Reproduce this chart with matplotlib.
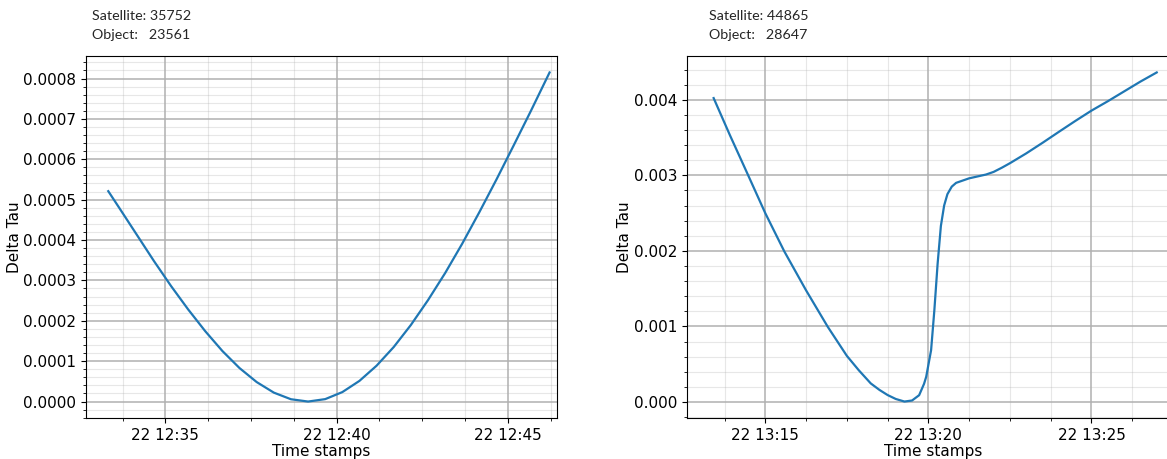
import matplotlib
matplotlib.use("Agg")
import matplotlib.pyplot as plt
import matplotlib.dates as mdates
from matplotlib.ticker import AutoMinorLocator
import pandas as pd

# values
day = "2023-03-22 "

left_times = ["12:33:20", "12:33:40", "12:34:10", "12:34:40", "12:35:10", "12:35:40",
              "12:36:10", "12:36:40", "12:37:10", "12:37:40", "12:38:10", "12:38:40",
              "12:39:10", "12:39:40", "12:40:10", "12:40:40", "12:41:10", "12:41:40",
              "12:42:10", "12:42:40", "12:43:10", "12:43:40", "12:44:10", "12:44:40",
              "12:45:10", "12:45:40", "12:46:13"]
left_tau = [0.000521, 0.000478, 0.000413, 0.000348, 0.000286, 0.000228,
            0.000174, 0.000125, 0.0000828, 0.0000482, 0.0000221, 0.0000057,
            0.0, 0.000006, 0.0000234, 0.0000512, 0.0000888, 0.000135,
            0.0001895, 0.000251, 0.000318, 0.000391, 0.000469, 0.000550,
            0.000634, 0.000719, 0.000815]

right_times = ["13:13:25", "13:13:55", "13:14:26", "13:15:00", "13:15:35", "13:16:15",
               "13:16:55", "13:17:30", "13:17:52", "13:18:14", "13:18:30", "13:18:45",
               "13:19:00", "13:19:16", "13:19:30", "13:19:43", "13:19:52", "13:19:56",
               "13:20:05", "13:20:11", "13:20:17", "13:20:23", "13:20:29", "13:20:35",
               "13:20:43", "13:20:51", "13:21:15", "13:21:46", "13:22:00", "13:22:15",
               "13:22:30", "13:23:00", "13:23:30", "13:24:00", "13:24:30", "13:25:00",
               "13:25:30", "13:26:00", "13:26:30", "13:27:00"]
right_tau = [0.004022, 0.003530, 0.003040, 0.002499, 0.001993, 0.001478,
             0.000994, 0.000611, 0.000420, 0.000246, 0.000160, 0.000092,
             0.000040, 0.000006, 0.000020, 0.000090, 0.000240, 0.000334,
             0.000686, 0.001215, 0.001830, 0.002330, 0.002600, 0.002750,
             0.002850, 0.002900, 0.002960, 0.003010, 0.003045, 0.003100,
             0.003160, 0.003290, 0.003430, 0.003575, 0.003718, 0.003856,
             0.003980, 0.004110, 0.004240, 0.004361]

panels = [
    ("Satellite: 35752\nObject:   23561", left_times, left_tau,
     ("12:32:41", "12:46:26"), [86, 557], 92),
    ("Satellite: 44865\nObject:   28647", right_times, right_tau,
     ("13:12:36", "13:27:41"), [687, 1179], 709),
]

W, H = 1167, 459
fig = plt.figure(figsize=(W / 100, H / 100), dpi=100)

for header, times, tau, xlim, (x0, x1), hx in panels:
    ax = fig.add_axes([x0 / W, 41 / H, (x1 - x0) / W, 362 / H])
    t = pd.to_datetime([day + s for s in times])
    ax.plot(t, tau, color="#1f77b4", lw=1.6)
    ax.set_xlim(pd.Timestamp(day + xlim[0]), pd.Timestamp(day + xlim[1]))

    ax.xaxis.set_major_locator(mdates.MinuteLocator(byminute=range(0, 60, 5)))
    ax.xaxis.set_major_formatter(mdates.DateFormatter("%d %H:%M"))
    ax.xaxis.set_minor_locator(AutoMinorLocator(4))
    ax.yaxis.set_minor_locator(AutoMinorLocator(5))
    ax.grid(which="major", color="#b0b0b0", lw=1.1)
    ax.grid(which="minor", color="#b0b0b0", lw=0.8, alpha=0.3)
    ax.tick_params(labelsize=11)
    ax.set_xlabel("Time stamps", fontsize=11, labelpad=1)
    ax.set_ylabel("Delta Tau", fontsize=11, labelpad=1)

    fig.text(hx / W, 1 - 10 / H, header, family="Lato", fontsize=10.3,
             color="#262626", va="top", ha="left", linespacing=1.7)

fig.savefig("out.png", dpi=100)
